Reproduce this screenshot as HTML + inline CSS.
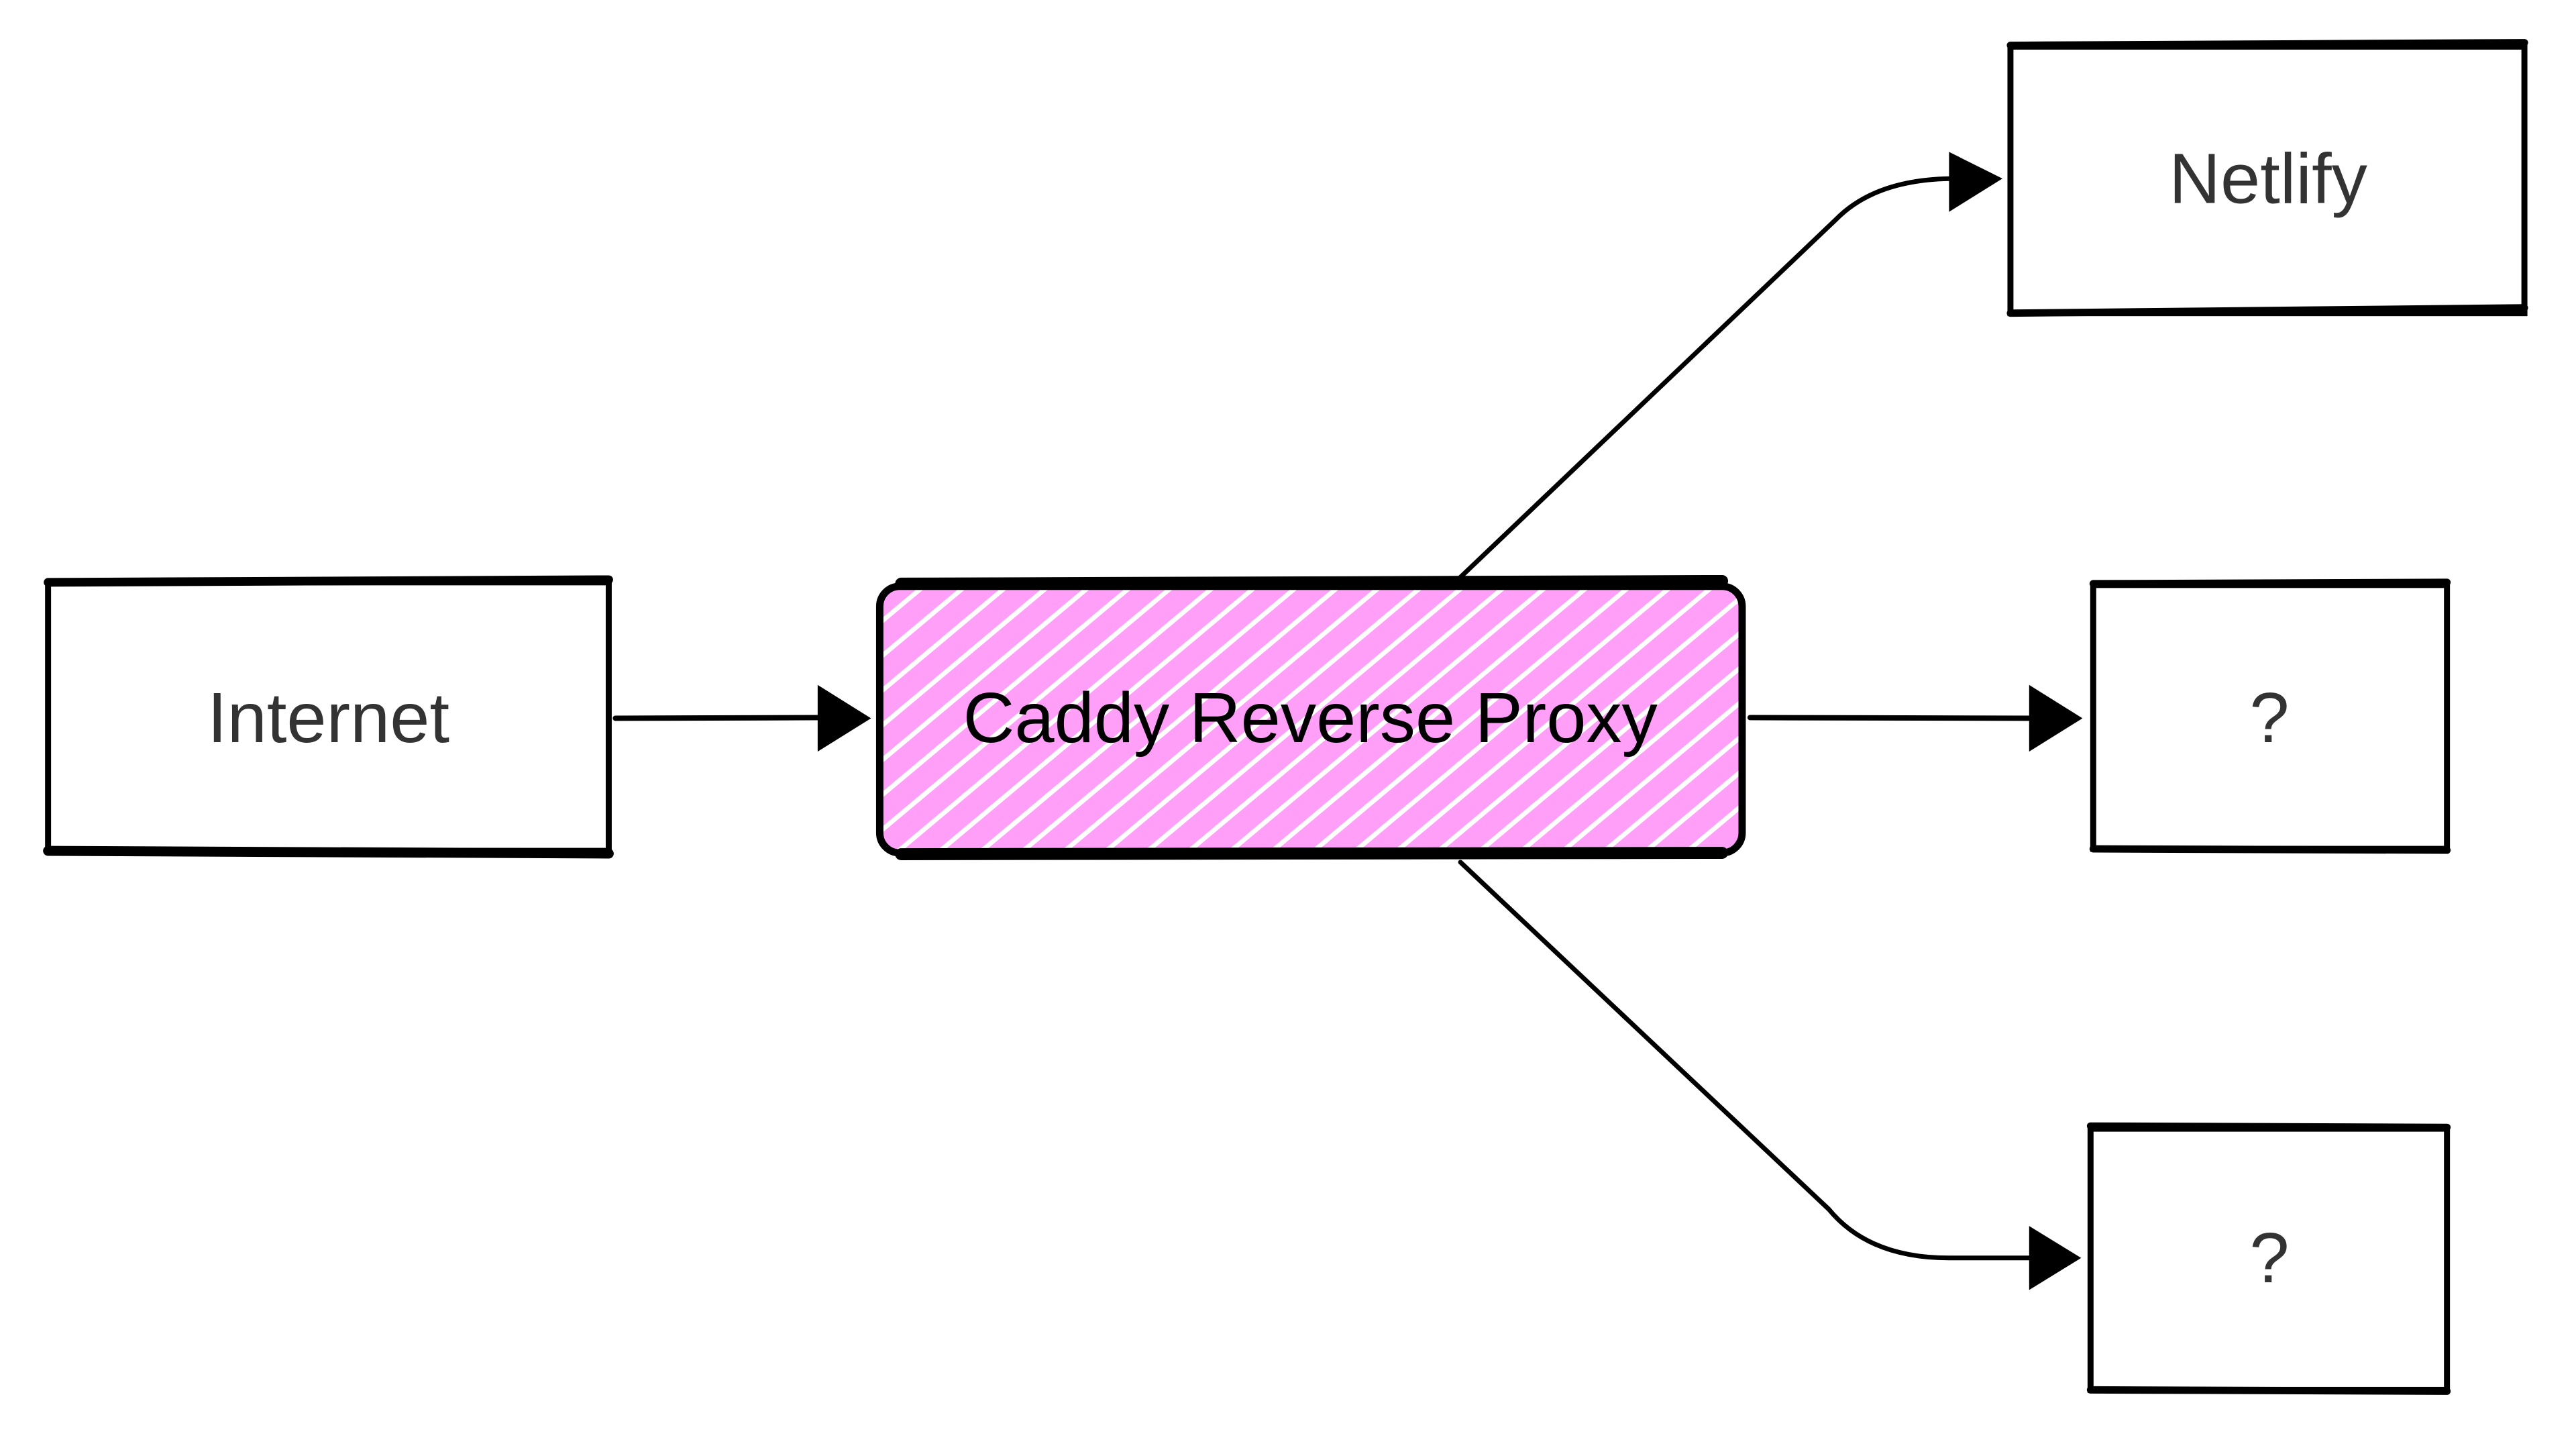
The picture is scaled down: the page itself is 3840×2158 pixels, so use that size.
<!DOCTYPE html>
<html><head><style>html,body{margin:0;padding:0;background:#fff}svg{display:block}</style></head>
<body>
<svg width="3840" height="2158" viewBox="0 0 3840 2158" xmlns="http://www.w3.org/2000/svg">
<defs>
<pattern id="h" patternUnits="userSpaceOnUse" width="40" height="40" patternTransform="rotate(-40)">
<rect width="40" height="40" fill="#ff9ff8"/>
<rect x="0" y="0" width="40" height="7" fill="#fff"/>
</pattern>
</defs>
<g transform="scale(0.995,0.993)">
<g fill="none" stroke="#000" stroke-linecap="round">
<rect x="72" y="874" width="840" height="403" stroke-width="9"/>
<line x1="72" y1="874" x2="912" y2="870" stroke-width="13"/>
<line x1="72" y1="1277" x2="912" y2="1281" stroke-width="15"/>
<rect x="1318" y="880" width="1292" height="400" rx="30" fill="url(#h)" stroke-width="11"/>
<line x1="1350" y1="876" x2="2580" y2="872" stroke-width="18"/>
<line x1="1350" y1="1282" x2="2580" y2="1280" stroke-width="18"/>
<rect x="3012" y="70" width="770" height="400" stroke-width="9"/>
<line x1="3012" y1="68" x2="3782" y2="64" stroke-width="11"/>
<line x1="3012" y1="470" x2="3782" y2="462" stroke-width="11"/>
<rect x="3136" y="878" width="530" height="396" stroke-width="9"/>
<line x1="3136" y1="876" x2="3666" y2="874" stroke-width="11"/>
<line x1="3136" y1="1274" x2="3666" y2="1276" stroke-width="11"/>
<rect x="3132" y="1694" width="534" height="392" stroke-width="9"/>
<line x1="3132" y1="1690" x2="3666" y2="1692" stroke-width="11"/>
<line x1="3132" y1="2086" x2="3666" y2="2088" stroke-width="11"/>
<path d="M922 1078 L1230 1077" stroke-width="8"/>
<path d="M2622 1077 L3045 1078" stroke-width="8"/>
<path d="M2182 872 L2750 330 Q2810 268 2930 268" stroke-width="7"/>
<path d="M2188 1294 L2740 1815 Q2800 1888 2920 1888 L3045 1888" stroke-width="7"/>
</g>
<g fill="#000">
<polygon points="1225,1028 1305,1078 1225,1128"/>
<polygon points="3040,1028 3120,1078 3040,1128"/>
<polygon points="2920,228 3000,268 2920,318"/>
<polygon points="3040,1840 3118,1888 3040,1936"/>
</g>
<g font-family="Liberation Sans, sans-serif" font-size="107" text-anchor="middle" dominant-baseline="central">
<text x="492" y="1077" fill="#333">Internet</text>
<text x="1963" y="1077" fill="#000">Caddy Reverse Proxy</text>
<text x="3398" y="268" fill="#333">Netlify</text>
<text x="3400" y="1077" fill="#333">?</text>
<text x="3400" y="1888" fill="#333">?</text>
</g>
</g>
</svg>
</body></html>
